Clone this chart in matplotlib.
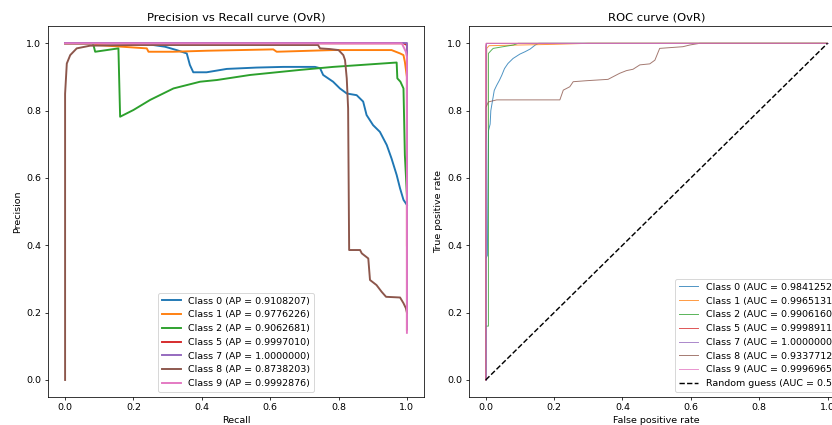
import matplotlib
matplotlib.use("Agg")
import matplotlib.pyplot as plt

DPI = 68.75

class_names = ["Class 0", "Class 1", "Class 2", "Class 5", "Class 7", "Class 8", "Class 9"]
ap_values = [0.9108207, 0.9776226, 0.9062681, 0.9997010, 1.0000000, 0.8738203, 0.9992876]
auc_values = [0.9841252, 0.9965131, 0.9906160, 0.9998911, 1.0000000, 0.9337712, 0.9996965]

# Precision-recall curves (recall, precision)
pr_recall_0 = [0.0, 0.25, 0.258, 0.292, 0.326, 0.356, 0.365, 0.375, 0.414, 0.473, 0.56, 0.638, 0.731, 0.746,
               0.755, 0.784, 0.804, 0.824, 0.853, 0.872, 0.882, 0.901, 0.921, 0.941, 0.955, 0.97, 0.98, 0.99, 1.0]
pr_prec_0 = [1.0, 1.0, 0.995, 0.99, 0.98, 0.97, 0.936, 0.914, 0.914, 0.924, 0.928, 0.93, 0.93, 0.926,
             0.906, 0.886, 0.866, 0.851, 0.846, 0.827, 0.787, 0.757, 0.737, 0.698, 0.658, 0.609, 0.569, 0.535, 0.52]

pr_recall_1 = [0.0, 0.085, 0.093, 0.239, 0.244, 0.317, 0.414, 0.609, 0.619, 0.784, 0.955, 0.98, 0.99, 0.994, 1.0, 1.0]
pr_prec_1 = [1.0, 1.0, 0.995, 0.985, 0.975, 0.975, 0.978, 0.982, 0.975, 0.98, 0.98, 0.97, 0.965, 0.945, 0.9, 0.40]

pr_recall_2 = [0.0, 0.08, 0.083, 0.088, 0.156, 0.161, 0.2, 0.249, 0.317, 0.395, 0.444, 0.541, 0.687, 0.784,
               0.97, 0.972, 0.981, 0.99, 0.994, 1.0]
pr_prec_2 = [1.0, 1.0, 0.995, 0.975, 0.985, 0.782, 0.802, 0.832, 0.866, 0.886, 0.891, 0.906, 0.921, 0.93,
             0.943, 0.896, 0.886, 0.866, 0.668, 0.55]

pr_recall_5 = [0.0, 0.99, 1.0, 1.0]
pr_prec_5 = [1.0, 1.0, 0.995, 0.15]

pr_recall_7 = [0.0, 1.0, 1.0]
pr_prec_7 = [1.0, 1.0, 0.15]

pr_recall_8 = [0.0, 0.0, 0.005, 0.015, 0.034, 0.073, 0.2, 0.5, 0.74, 0.746, 0.775, 0.8, 0.814, 0.819, 0.824,
               0.828, 0.831, 0.863, 0.868, 0.887, 0.892, 0.911, 0.926, 0.939, 0.98, 0.99, 0.997, 1.0]
pr_prec_8 = [0.0, 0.85, 0.94, 0.965, 0.985, 0.993, 0.995, 0.995, 0.995, 0.985, 0.983, 0.98, 0.965, 0.95, 0.896,
             0.807, 0.386, 0.386, 0.376, 0.361, 0.297, 0.282, 0.262, 0.247, 0.245, 0.228, 0.213, 0.2]

pr_recall_9 = [0.0, 0.985, 0.997, 1.0, 1.0]
pr_prec_9 = [1.0, 1.0, 0.975, 0.96, 0.14]

# ROC curves (fpr, tpr)
roc_fpr_0 = [0.0, 0.0, 0.005, 0.008, 0.013, 0.015, 0.02, 0.025, 0.032, 0.04, 0.047, 0.055, 0.065, 0.08, 0.1,
             0.115, 0.13, 0.145, 0.155, 1.0]
roc_tpr_0 = [0.0, 0.36, 0.37, 0.74, 0.76, 0.8, 0.83, 0.86, 0.875, 0.89, 0.905, 0.925, 0.94, 0.955, 0.968,
             0.975, 0.983, 0.995, 1.0, 1.0]

roc_fpr_1 = [0.0, 0.0, 0.003, 0.003, 0.01, 0.1, 0.2, 0.3, 1.0]
roc_tpr_1 = [0.0, 0.7, 0.75, 0.985, 0.993, 0.995, 0.997, 1.0, 1.0]

roc_fpr_2 = [0.0, 0.0, 0.008, 0.008, 0.017, 0.022, 0.051, 0.081, 0.095, 1.0]
roc_tpr_2 = [0.0, 0.16, 0.16, 0.97, 0.98, 0.985, 0.99, 0.995, 1.0, 1.0]

roc_fpr_5 = [0.0, 0.0, 0.002, 1.0]
roc_tpr_5 = [0.0, 0.99, 1.0, 1.0]

roc_fpr_7 = [0.0, 0.0, 1.0]
roc_tpr_7 = [0.0, 1.0, 1.0]

roc_fpr_8 = [0.0, 0.0, 0.003, 0.008, 0.032, 0.217, 0.227, 0.246, 0.256, 0.295, 0.358, 0.373, 0.392, 0.412,
             0.431, 0.451, 0.48, 0.495, 0.509, 0.577, 0.597, 0.626, 1.0]
roc_tpr_8 = [0.0, 0.81, 0.815, 0.826, 0.832, 0.832, 0.861, 0.871, 0.886, 0.889, 0.893, 0.901, 0.911, 0.919,
             0.923, 0.936, 0.939, 0.95, 0.985, 0.99, 0.995, 1.0, 1.0]

roc_fpr_9 = [0.0, 0.0, 0.001, 1.0]
roc_tpr_9 = [0.0, 0.995, 1.0, 1.0]

random_fpr = [0.0, 1.0]
random_tpr = [0.0, 1.0]

pr_recalls = [pr_recall_0, pr_recall_1, pr_recall_2, pr_recall_5, pr_recall_7, pr_recall_8, pr_recall_9]
pr_precs = [pr_prec_0, pr_prec_1, pr_prec_2, pr_prec_5, pr_prec_7, pr_prec_8, pr_prec_9]
roc_fprs = [roc_fpr_0, roc_fpr_1, roc_fpr_2, roc_fpr_5, roc_fpr_7, roc_fpr_8, roc_fpr_9]
roc_tprs = [roc_tpr_0, roc_tpr_1, roc_tpr_2, roc_tpr_5, roc_tpr_7, roc_tpr_8, roc_tpr_9]

W, H = 832, 425
fig = plt.figure(figsize=(W / DPI, H / DPI), dpi=DPI)

def rect(x0, x1, ytop, ybot):
    return [x0 / W, 1 - ybot / H, (x1 - x0) / W, (ybot - ytop) / H]

ax1 = fig.add_axes(rect(48, 424, 26.5, 396.8))
ax2 = fig.add_axes(rect(468.6, 844.6, 26.5, 396.8))

for i, name in enumerate(class_names):
    ax1.plot(pr_recalls[i], pr_precs[i], lw=2, color=f"C{i}",
             label=f"{name} (AP = {ap_values[i]:.7f})")
ax1.set_xlim(-0.05, 1.05)
ax1.set_ylim(-0.05, 1.05)
ax1.set_xlabel("Recall")
ax1.set_ylabel("Precision")
ax1.set_title("Precision vs Recall curve (OvR)")
ax1.legend(loc="lower center")

for i, name in enumerate(class_names):
    ax2.plot(roc_fprs[i], roc_tprs[i], lw=1, color=f"C{i}", alpha=0.8,
             label=f"{name} (AUC = {auc_values[i]:.7f})")
ax2.plot(random_fpr, random_tpr, "k--", lw=1.5, label="Random guess (AUC = 0.5)")
ax2.set_xlim(-0.05, 1.05)
ax2.set_ylim(-0.05, 1.05)
ax2.set_xlabel("False positive rate")
ax2.set_ylabel("True positive rate")
ax2.set_title("ROC curve (OvR)")
ax2.legend(loc="lower right")

fig.savefig("out.png", dpi=DPI)
